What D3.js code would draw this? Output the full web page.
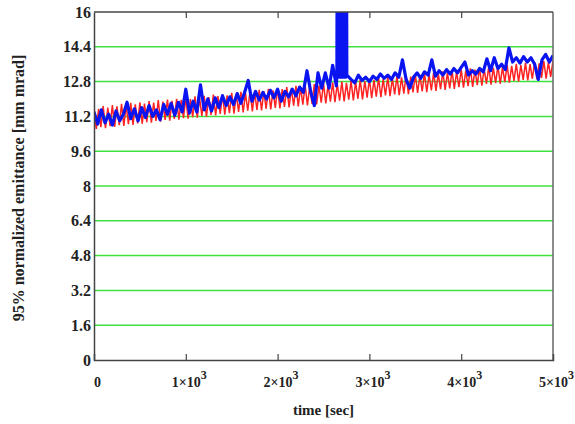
<!DOCTYPE html>
<html>
<head>
<meta charset="utf-8">
<script src="https://cdn.jsdelivr.net/npm/d3@7"></script>
<style>
  body { margin: 0; background: #fff; }
  text { font-family: "Liberation Serif", "Times New Roman", serif; font-weight: bold; fill: #222; }
</style>
</head>
<body>
<div id="chart"></div>
<script>
// tick values
var yTicks = [0, 1.6, 3.2, 4.8, 6.4, 8, 9.6, 11.2, 12.8, 14.4, 16];
var xTicks = [0, 1000, 2000, 3000, 4000, 5000];
var xTickLabels = [["0", ""], ["1\u00d710", "3"], ["2\u00d710", "3"], ["3\u00d710", "3"], ["4\u00d710", "3"], ["5\u00d710", "3"]];

// red series: peaks every 50 s starting at 0, troughs every 50 s starting at 25
var redStep = 25;
var redHigh = [
  11.62,11.55,11.68,11.60,11.72,11.66,11.78,11.70,11.82,11.76,
  11.85,11.79,11.90,11.84,11.95,11.88,11.97,11.92,12.01,11.96,
  12.06,12.00,12.12,12.05,12.15,12.09,12.20,12.13,12.22,12.17,
  12.28,12.22,12.33,12.27,12.38,12.31,12.42,12.36,12.47,12.40,
  12.50,12.45,12.55,12.49,12.60,12.53,12.64,12.57,12.68,12.62,
  12.72,12.66,12.76,12.70,12.80,12.74,12.84,12.78,12.88,12.82,
  12.93,12.88,12.97,12.92,13.01,12.95,13.05,12.99,13.10,13.03,
  13.15,13.09,13.19,13.13,13.23,13.17,13.27,13.21,13.31,13.25,
  13.36,13.31,13.41,13.35,13.45,13.39,13.49,13.43,13.53,13.47,
  13.57,13.52,13.62,13.56,13.66,13.60,13.70,13.64,13.74,13.68,13.78
];
var redLow = [
  10.62,10.70,10.66,10.75,10.72,10.80,10.76,10.84,10.81,10.88,
  10.86,10.94,10.91,10.99,10.96,11.04,11.00,11.08,11.05,11.12,
  11.10,11.17,11.14,11.22,11.19,11.27,11.24,11.31,11.28,11.35,
  11.33,11.41,11.38,11.46,11.43,11.50,11.47,11.55,11.52,11.59,
  11.57,11.64,11.61,11.69,11.66,11.74,11.71,11.78,11.75,11.83,
  11.80,11.88,11.85,11.92,11.89,11.97,11.94,12.01,11.98,12.06,
  12.04,12.11,12.08,12.16,12.13,12.21,12.18,12.25,12.22,12.30,
  12.28,12.35,12.32,12.40,12.37,12.45,12.42,12.49,12.46,12.54,
  12.52,12.59,12.56,12.64,12.61,12.69,12.66,12.73,12.70,12.78,
  12.75,12.83,12.80,12.88,12.85,12.93,12.90,12.97,12.94,13.02
];

// blue series: one sample every 40 s (the burst near 2700 s is listed separately)
var blueStep = 40;
var blueVals = [
  11.4,10.85,11.5,10.9,11.3,10.8,11.45,11.0,11.3,11.85,
  11.1,11.55,11.0,11.6,11.15,11.7,11.2,11.5,11.05,11.75,
  11.3,11.8,11.25,11.85,11.4,12.45,11.35,11.9,11.4,12.65,
  11.5,12.0,11.45,12.05,11.6,12.15,11.7,12.1,11.75,12.25,
  11.8,12.3,12.85,11.9,12.35,11.95,12.3,12.0,12.4,12.05,
  12.45,11.9,12.35,12.1,12.45,12.15,12.55,12.3,13.3,12.35,
  11.7,13.2,12.5,13.2,12.5,13.55,12.6,null,null,null,
  12.9,12.75,13.1,12.85,13.0,12.8,13.05,12.9,13.15,12.95,
  13.1,12.9,13.2,13.0,13.8,12.9,12.5,13.0,13.2,12.95,
  13.25,13.1,13.8,13.05,13.3,13.1,13.35,13.15,13.4,13.2,
  13.45,13.7,13.1,13.3,13.15,13.4,13.25,13.85,13.3,13.9,
  13.4,13.6,13.35,14.35,13.7,13.9,13.65,13.95,13.7,13.9,
  13.6,12.9,13.8,14.05,13.7,14.0
];
// burst: fast oscillation, every 3 s from 2646 s
var burstStart = 2646, burstStep = 3;
var burstVals = [
  13.2,19,13.0,19,13.3,19,13.1,19,13.0,19,13.2,19,13.3,19,13.1,19,
  13.0,19,13.2,19,13.3,19,13.1,19,13.0,19,13.2,19,13.3,19,13.1,19,
  13.0,19,13.2,19,13.1
];

var redData = [];
redHigh.forEach(function(v, i) {
  redData.push([i * 2 * redStep, v]);
  if (i < redLow.length) redData.push([(i * 2 + 1) * redStep, redLow[i]]);
});
var blueData = [];
blueVals.forEach(function(v, i) {
  if (v !== null) blueData.push([i * blueStep, v]);
  if (i === 66) burstVals.forEach(function(b, j) { blueData.push([burstStart + j * burstStep, b]); });
});

var svgWidth = 575, svgHeight = 424;
var margin = {top: 12, right: 22, bottom: 64, left: 94};
var width = svgWidth - margin.left - margin.right;
var height = svgHeight - margin.top - margin.bottom;

var svg = d3.select("#chart").append("svg")
  .attr("width", svgWidth)
  .attr("height", svgHeight);

var chartGroup = svg.append("g")
  .attr("transform", `translate(${margin.left}, ${margin.top})`);

var xScale = d3.scaleLinear().domain([0, 5000]).range([0, width]);
var yScale = d3.scaleLinear().domain([0, 16]).range([height, 0]);

// green grid lines
chartGroup.append("g")
  .selectAll("line")
  .data(yTicks.slice(1, -1))
  .enter()
  .append("line")
  .attr("x1", 0)
  .attr("x2", width)
  .attr("y1", d => yScale(d))
  .attr("y2", d => yScale(d))
  .attr("stroke", "#3ee23e")
  .attr("stroke-width", 1.5);

chartGroup.append("clipPath").attr("id", "clip")
  .append("rect").attr("width", width).attr("height", height);

var line = d3.line()
  .x(d => xScale(d[0]))
  .y(d => yScale(d[1]));

chartGroup.append("path")
  .datum(redData)
  .attr("clip-path", "url(#clip)")
  .attr("fill", "none")
  .attr("stroke", "#ff2222")
  .attr("stroke-width", 1.5)
  .attr("d", line);

chartGroup.append("path")
  .datum(blueData)
  .attr("clip-path", "url(#clip)")
  .attr("fill", "none")
  .attr("stroke", "#0a14f0")
  .attr("stroke-width", 3.2)
  .attr("stroke-linejoin", "round")
  .attr("d", line);

// frame
var axisColor = "#444";
chartGroup.append("line").attr("x1", width).attr("x2", width).attr("y1", 0).attr("y2", height)
  .attr("stroke", "#666").attr("stroke-width", 1.5);
chartGroup.append("line").attr("x1", 0).attr("x2", width).attr("y1", 0).attr("y2", 0)
  .attr("stroke", axisColor).attr("stroke-width", 1.5);

// top ticks
var topAxis = d3.axisTop(xScale).tickValues(xTicks.slice(1, -1)).tickSize(-6).tickFormat("");
chartGroup.append("g").call(topAxis)
  .call(g => g.select(".domain").remove())
  .selectAll("line").attr("stroke", axisColor).attr("stroke-width", 1.2);

// bottom axis
var bottomAxis = d3.axisBottom(xScale).tickValues(xTicks).tickSize(-6).tickPadding(20).tickFormat("");
var bx = chartGroup.append("g")
  .attr("transform", `translate(0, ${height})`)
  .call(bottomAxis);
bx.select(".domain").attr("stroke", axisColor).attr("stroke-width", 1.5);
bx.selectAll(".tick line").attr("stroke", axisColor).attr("stroke-width", 1.2)
  .filter(d => d === 0 || d === 5000).remove();
bx.selectAll(".tick text").each(function(d, i) {
  var t = d3.select(this)
    .attr("dx", 3)
    .attr("y", 27)
    .attr("dy", 0)
    .style("font-size", "14px");
  t.append("tspan").text(xTickLabels[i][0]);
  if (xTickLabels[i][1]) {
    t.append("tspan").attr("dy", -8).style("font-size", "12px").text(xTickLabels[i][1]);
  }
});

// left axis
var leftAxis = d3.axisLeft(yScale).tickValues(yTicks).tickSize(0).tickPadding(3).tickFormat(d3.format(""));
var ly = chartGroup.append("g").call(leftAxis);
ly.select(".domain").attr("stroke", axisColor).attr("stroke-width", 1.5);
ly.selectAll(".tick text").style("font-size", "16px").attr("fill", "#222");

// axis titles
svg.append("text")
  .attr("x", margin.left + width / 2)
  .attr("y", 415)
  .attr("text-anchor", "middle")
  .style("font-size", "15px")
  .text("time [sec]");

svg.append("text")
  .attr("transform", "translate(24, 188) rotate(-90)")
  .attr("text-anchor", "middle")
  .style("font-size", "16px")
  .text("95% normalized emittance [mm mrad]");
</script>
</body>
</html>
